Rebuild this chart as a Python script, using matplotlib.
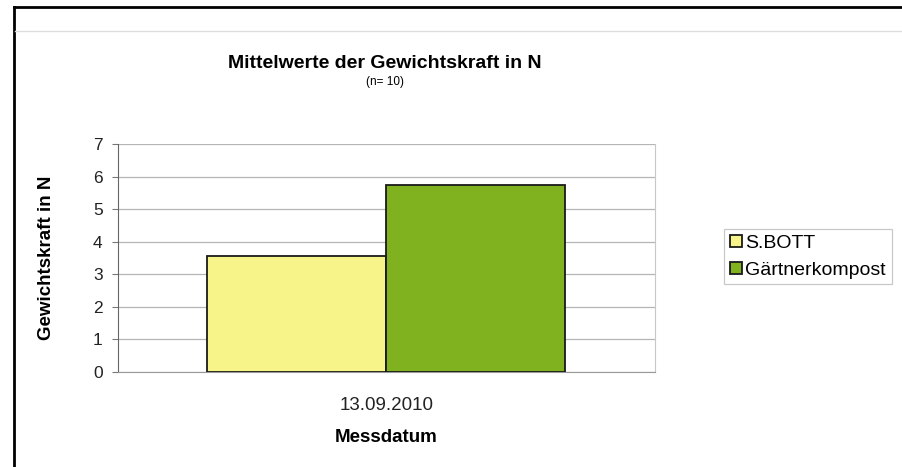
import matplotlib
matplotlib.use('Agg')
import matplotlib.pyplot as plt
from matplotlib.lines import Line2D

# data
categories = ['13.09.2010']
series = ['S.BOTT', 'Gärtnerkompost']
values = [3.55, 5.75]
colors = ['#F7F48A', '#7FB21E']
yticks = [0, 1, 2, 3, 4, 5, 6, 7]

plt.rcParams['font.family'] = ['Liberation Sans', 'DejaVu Sans']

fig = plt.figure(figsize=(9.02, 4.67), dpi=100)
ax = fig.add_axes([0.1308, 0.2034, 0.5953, 0.4882])

w = 1 / 3
for i, (name, v) in enumerate(zip(series, values)):
    ax.bar(-w / 2 + i * w, v, width=w, color=colors[i], edgecolor='#1a1a1a',
           linewidth=1.3, label=name, zorder=3)

ax.set_xlim(-0.5, 0.5)
ax.set_ylim(0, 7)
ax.set_yticks(yticks)
ax.set_xticks([0])
ax.set_xticklabels(categories)
ax.tick_params(axis='x', length=0, labelsize=13.5, pad=18, colors='#222222')
ax.tick_params(axis='y', length=4, color='#777777', labelsize=12.5, pad=7,
               labelcolor='#222222')
ax.yaxis.grid(True, color='#b5b5b5', linewidth=0.9, zorder=0)

ax.spines['top'].set_visible(False)
ax.spines['right'].set_color('#c8c8c8')
ax.spines['left'].set_color('#666666')
ax.spines['bottom'].set_color('#999999')

ax.set_xlabel('Messdatum', fontsize=13.5, fontweight='bold', labelpad=11)
ax.set_ylabel('Gewichtskraft in N', fontsize=13.5, fontweight='bold', labelpad=27)

fig.text(385 / 902, 1 - 63 / 467, 'Mittelwerte der Gewichtskraft in N',
         ha='center', va='center', fontsize=14, fontweight='bold')
fig.text(385 / 902, 1 - 82 / 467, '(n= 10)', ha='center', va='center',
         fontsize=8.5)

leg = ax.legend(loc='upper left', bbox_to_anchor=(724 / 902, 1 - 229 / 467),
                bbox_transform=fig.transFigure, frameon=True, fancybox=False,
                fontsize=14, handlelength=0.6, handleheight=0.6,
                handletextpad=0.2, borderpad=0.3, labelspacing=0.5,
                borderaxespad=0)
leg.get_frame().set_edgecolor('#bbbbbb')
leg.get_frame().set_linewidth(0.9)

# outer frame of the scanned chart
fig.add_artist(Line2D([14 / 902, 14 / 902], [0, 1 - 7 / 467],
                      transform=fig.transFigure, color='black', linewidth=2))
fig.add_artist(Line2D([14 / 902, 1], [1 - 7 / 467, 1 - 7 / 467],
                      transform=fig.transFigure, color='black', linewidth=2))
fig.add_artist(Line2D([15 / 902, 1], [1 - 31 / 467, 1 - 31 / 467],
                      transform=fig.transFigure, color='#dddddd', linewidth=1))

fig.savefig('out.png', dpi=100)
